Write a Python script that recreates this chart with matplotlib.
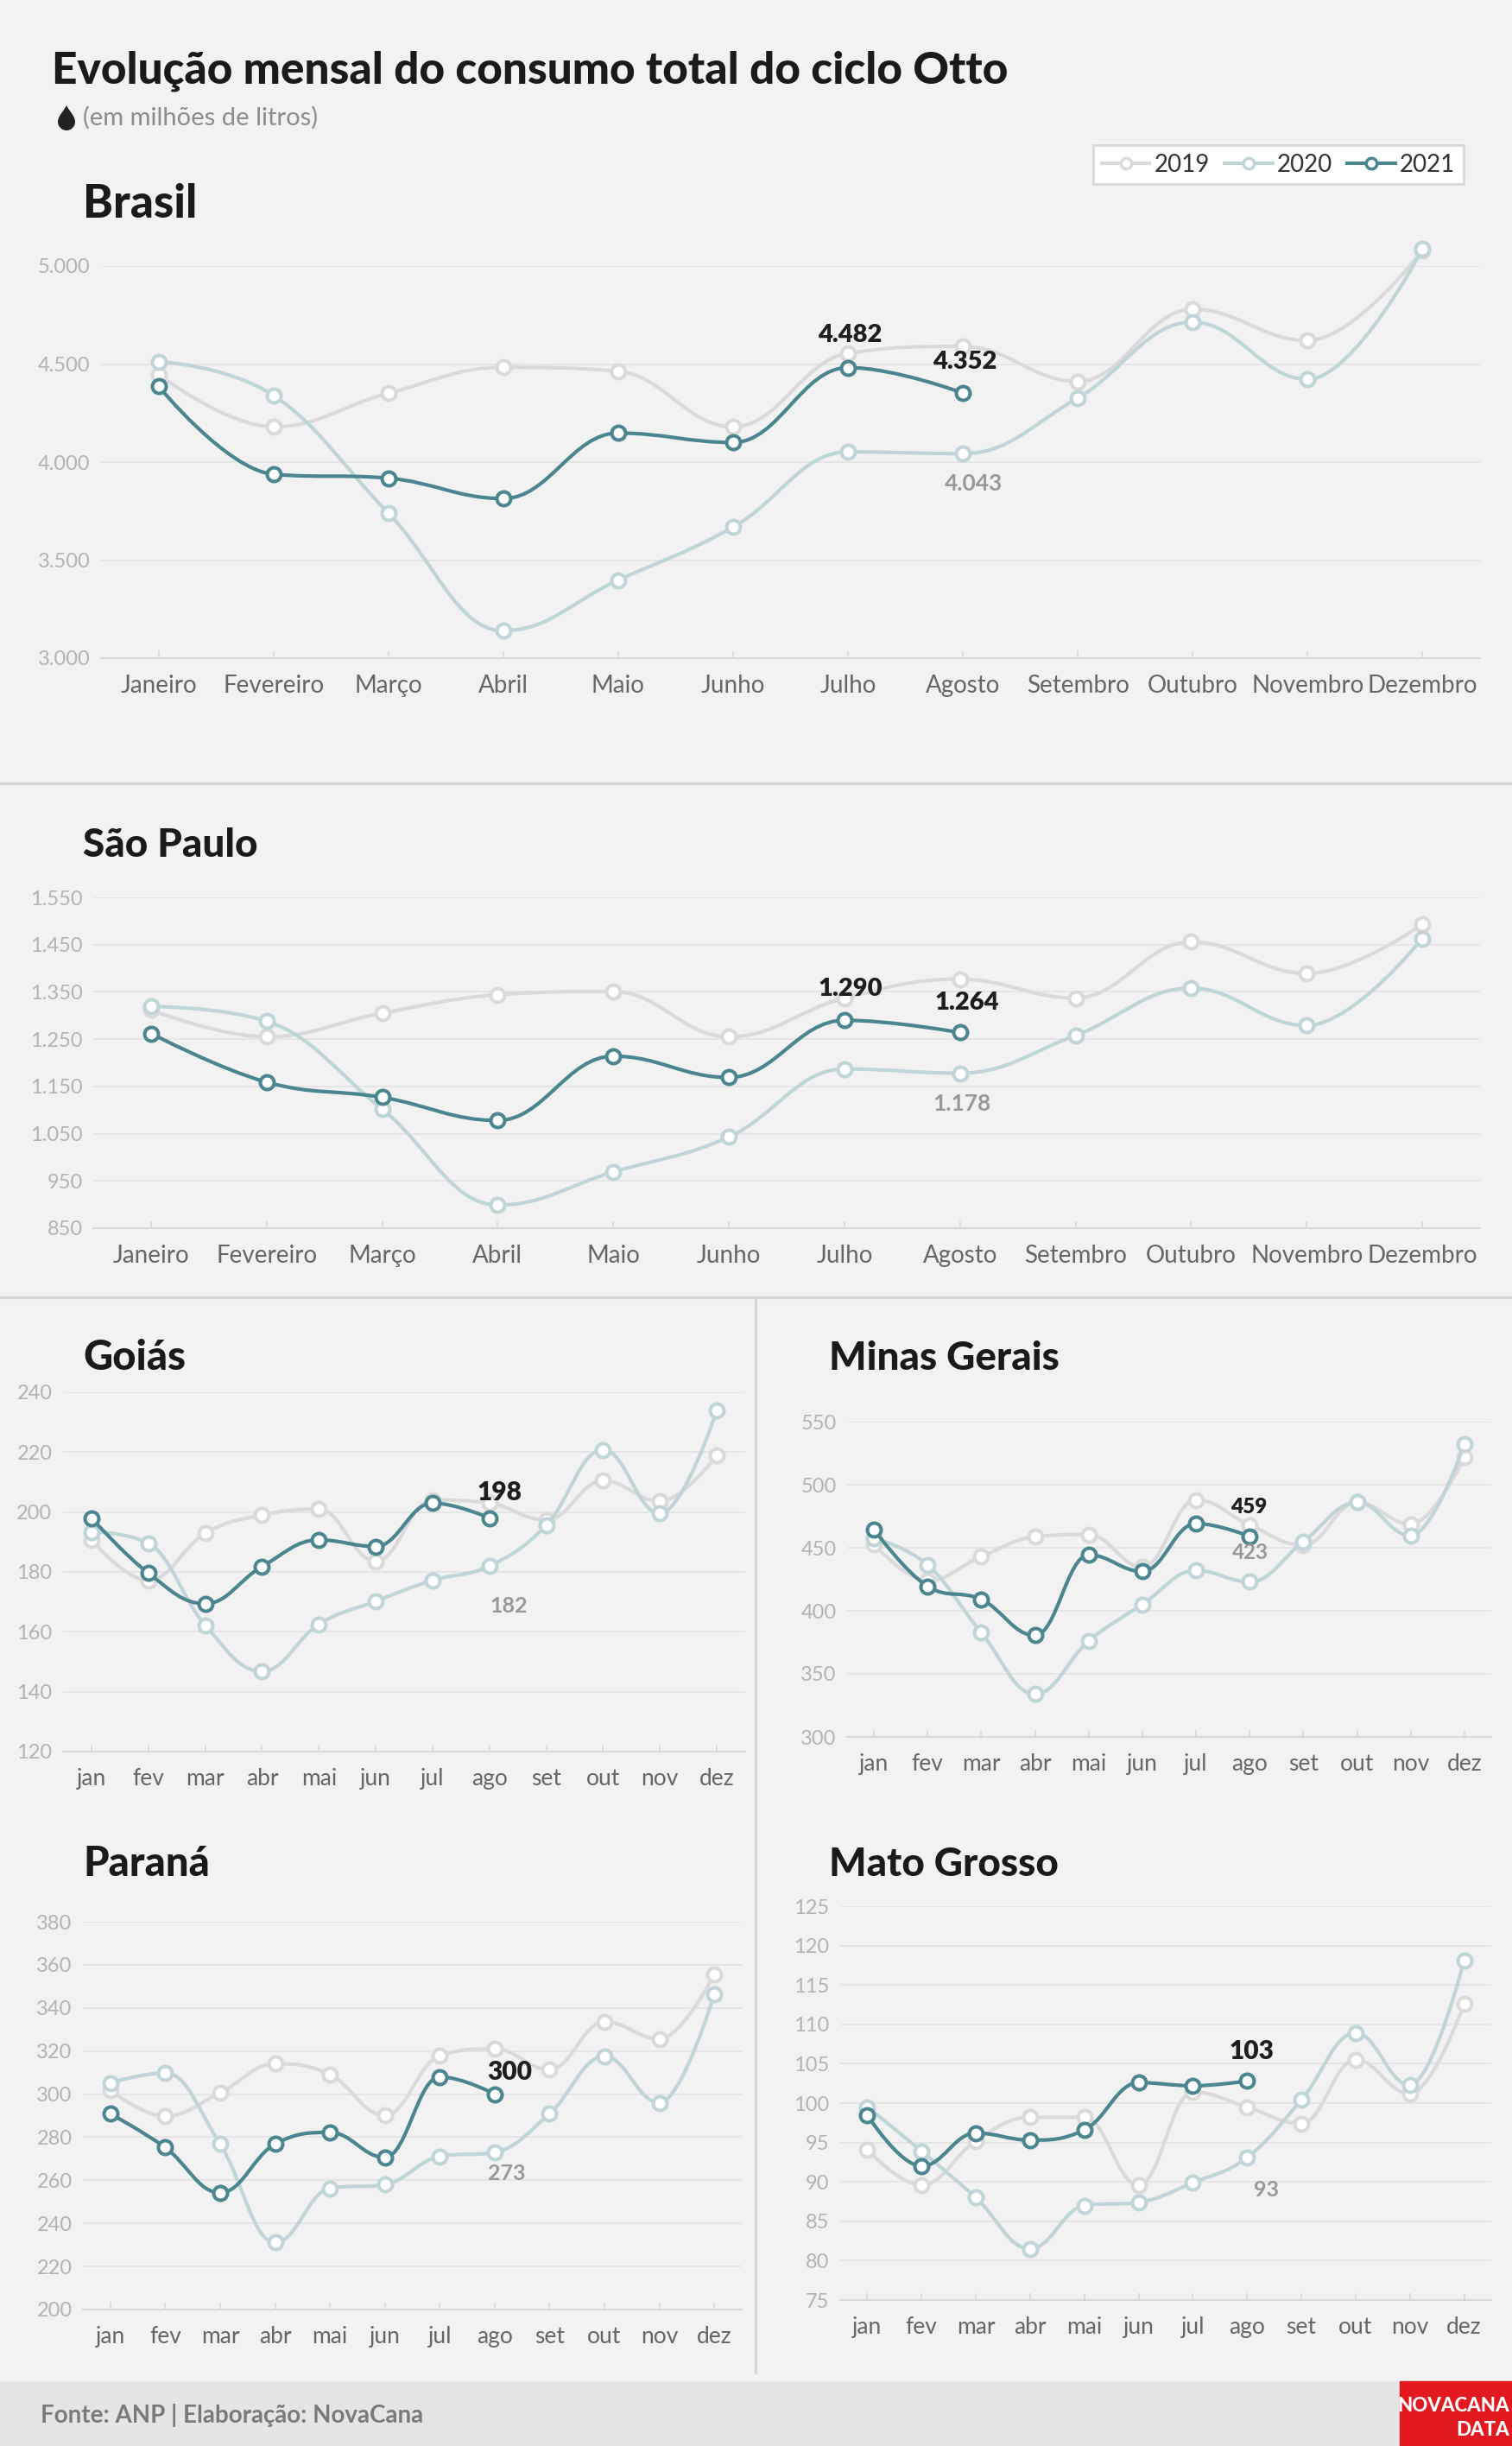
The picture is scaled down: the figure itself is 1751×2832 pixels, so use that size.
import matplotlib as mpl
mpl.use("Agg")
import matplotlib.pyplot as plt
from matplotlib.path import Path
from matplotlib.patches import PathPatch, Rectangle
from matplotlib.lines import Line2D
from matplotlib.ticker import FuncFormatter, FixedLocator
import matplotlib.transforms as mtransforms

plt.rcParams['font.family'] = ['Lato', 'DejaVu Sans']

W, H = 1751, 2832
BG = "#f2f2f2"
C19 = "#dadada"
C20 = "#c0d5d8"
C21 = "#4a8590"

months_full = ["Janeiro", "Fevereiro", "Março", "Abril", "Maio", "Junho", "Julho",
               "Agosto", "Setembro", "Outubro", "Novembro", "Dezembro"]
months_short = ["jan", "fev", "mar", "abr", "mai", "jun", "jul", "ago", "set", "out", "nov", "dez"]

# valores em milhões de litros
brasil_2019 = [4447, 4180, 4351, 4483, 4463, 4180, 4555, 4590, 4411, 4780, 4620, 5080]
brasil_2020 = [4512, 4340, 3740, 3140, 3398, 3668, 4052, 4043, 4327, 4714, 4422, 5086]
brasil_2021 = [4387, 3938, 3918, 3814, 4148, 4100, 4482, 4352]

sp_2019 = [1312, 1255, 1305, 1344, 1351, 1255, 1337, 1377, 1337, 1456, 1389, 1493]
sp_2020 = [1319, 1288, 1102, 899, 969, 1043, 1187, 1178, 1258, 1358, 1279, 1463]
sp_2021 = [1262, 1159, 1127, 1078, 1214, 1169, 1290, 1264]

go_2019 = [190.7, 177.2, 192.9, 199, 201, 183.5, 204, 203, 197.3, 210.5, 203.6, 219]
go_2020 = [193.4, 189.6, 162.2, 146.8, 162.5, 170.2, 177.2, 182, 195.6, 220.8, 199.5, 233.9]
go_2021 = [198, 179.6, 169.4, 181.8, 190.7, 188.5, 203, 198]

mg_2019 = [453, 424, 443, 458.7, 460.5, 434.6, 488, 468, 452, 486, 468.7, 521.7]
mg_2020 = [457.4, 436.4, 382.6, 334, 376, 405, 432, 423, 454.8, 486, 459.5, 532]
mg_2021 = [464.5, 419.4, 409, 380.5, 444.3, 431.2, 469.2, 459]

pr_2019 = [301.7, 289.8, 300.6, 314.1, 309, 290.1, 317.8, 321, 311.3, 333.6, 325.6, 355.6]
pr_2020 = [305.2, 309.8, 276.8, 231.1, 256.3, 258, 271.1, 273, 290.9, 317.5, 296, 346.4]
pr_2021 = [290.9, 275.2, 254.2, 276.8, 282.2, 270.6, 308, 300]

mt_2019 = [94.1, 89.6, 95.2, 98.2, 98.2, 89.6, 101.4, 99.5, 97.4, 105.5, 101.2, 112.6]
mt_2020 = [99.5, 93.9, 88, 81.5, 87, 87.4, 89.9, 93.1, 100.4, 108.9, 102.3, 118.1]
mt_2021 = [98.5, 92, 96.2, 95.3, 96.6, 102.6, 102.2, 102.8]

brasil_ticks = [3000, 3500, 4000, 4500, 5000]
sp_ticks = [850, 950, 1050, 1150, 1250, 1350, 1450, 1550]
go_ticks = [120, 140, 160, 180, 200, 220, 240]
mg_ticks = [300, 350, 400, 450, 500, 550]
pr_ticks = [200, 220, 240, 260, 280, 300, 320, 340, 360, 380]
mt_ticks = [75, 80, 85, 90, 95, 100, 105, 110, 115, 120, 125]


def spline_path(xs, ys, smoothing=1.5):
    # curva suave tipo "spline" (controles de bezier)
    n = len(xs)
    left, right = [], []
    for i in range(n):
        x, y = xs[i], ys[i]
        if i == 0 or i == n - 1:
            left.append((x, y))
            right.append((x, y))
            continue
        lx, ly = xs[i - 1], ys[i - 1]
        nx, ny = xs[i + 1], ys[i + 1]
        d = smoothing + 1
        lcx = (smoothing * x + lx) / d
        lcy = (smoothing * y + ly) / d
        rcx = (smoothing * x + nx) / d
        rcy = (smoothing * y + ny) / d
        corr = (rcy - lcy) * (rcx - x) / (rcx - lcx) + y - rcy
        lcy += corr
        rcy += corr
        if lcy > ly and lcy > y:
            lcy = max(ly, y)
            rcy = 2 * y - lcy
        elif lcy < ly and lcy < y:
            lcy = min(ly, y)
            rcy = 2 * y - lcy
        if rcy > ny and rcy > y:
            rcy = max(ny, y)
            lcy = 2 * y - rcy
        elif rcy < ny and rcy < y:
            rcy = min(ny, y)
            lcy = 2 * y - rcy
        left.append((lcx, lcy))
        right.append((rcx, rcy))
    verts = [(xs[0], ys[0])]
    codes = [Path.MOVETO]
    for i in range(1, n):
        verts += [right[i - 1], left[i], (xs[i], ys[i])]
        codes += [Path.CURVE4] * 3
    return Path(verts, codes)


def draw_series(ax, vals, color, z):
    xs = list(range(len(vals)))
    ax.add_patch(PathPatch(spline_path(xs, vals), fill=False, edgecolor=color, lw=3.0,
                           capstyle="round", joinstyle="round", zorder=z, clip_on=False))
    ax.plot(xs, vals, "o", ms=11.5, mfc="white", mec=color, mew=2.9, zorder=z + 0.5, clip_on=False)


def fmt_br(v):
    return f"{v:,.0f}".replace(",", ".")


fig = plt.figure(figsize=(W / 100, H / 100), dpi=100, facecolor=BG)


def px_rect(x0, y0, x1, y1):
    return [x0 / W, 1 - y1 / H, (x1 - x0) / W, (y1 - y0) / H]


# (titulo, tamanho, dados, ticks, retangulo px, rotulos, pos titulo, anotações)
panels = [
    ("Brasil", 38, (brasil_2019, brasil_2020, brasil_2021), brasil_ticks, (117, 308, 1714, 762), months_full,
     (96, 252), [(2021, 6, 2, 30, 21), (2021, 7, 2, 28, 21), (2020, 7, 12, -43, 19)]),
    ("São Paulo", 33, (sp_2019, sp_2020, sp_2021), sp_ticks, (108, 1039, 1714, 1422), months_full,
     (96, 992), [(2021, 6, 7, 28, 21), (2021, 7, 8, 26, 21), (2020, 7, 2, -43, 19)]),
    ("Goiás", 34, (go_2019, go_2020, go_2021), go_ticks, (73, 1612, 863, 2028), months_short,
     (96, 1586), [(2021, 7, 12, 21, 21.5), (2020, 7, 22, -54, 18)]),
    ("Minas Gerais", 33, (mg_2019, mg_2020, mg_2021), mg_ticks, (981, 1646, 1727, 2011), months_short,
     (960, 1586), [(2021, 7, -1, 27, 17.5), (2020, 7, 1, 26, 17.5)]),
    ("Paraná", 34, (pr_2019, pr_2020, pr_2021), pr_ticks, (96, 2225, 859, 2674), months_short,
     (96, 2172), [(2021, 7, 17, 17, 21.5), (2020, 7, 14, -32, 18)]),
    ("Mato Grosso", 33, (mt_2019, mt_2020, mt_2021), mt_ticks, (973, 2207, 1727, 2663), months_short,
     (960, 2172), [(2021, 7, 5, 25, 21.5), (2020, 7, 22, -45, 18)]),
]

for title, tsize, (s19, s20, s21), yt, rect, labels, tpos, notes in panels:
    ax = fig.add_axes(px_rect(*rect))
    ax.set_facecolor("none")
    draw_series(ax, s19, C19, 3)
    draw_series(ax, s20, C20, 4)
    draw_series(ax, s21, C21, 5)
    ax.set_xlim(-0.5, 11.5)
    ax.set_ylim(yt[0], yt[-1])
    ax.yaxis.set_major_locator(FixedLocator(yt))
    ax.yaxis.set_major_formatter(FuncFormatter(lambda v, p: fmt_br(v)))
    ax.set_xticks(range(12))
    big = len(labels[0]) > 3
    ax.set_xticklabels(labels, fontsize=20 if big else 19, color="#666666")
    ax.tick_params(axis="y", length=0, pad=9, labelsize=17, labelcolor="#b3b3b3")
    ax.tick_params(axis="x", direction="in", length=6, width=1.2, color="#d9d9d9", pad=14)
    ax.grid(axis="y", color="#e2e2e2", lw=1.1)
    ax.set_axisbelow(True)
    for s in ["left", "right", "top"]:
        ax.spines[s].set_visible(False)
    ax.spines["bottom"].set_color("#d9d9d9")
    ax.spines["bottom"].set_linewidth(1.5)
    fig.text(tpos[0] / W, 1 - tpos[1] / H, title, fontsize=tsize, fontweight="black",
             color="#1a1a1a", va="baseline", ha="left")
    for yr, idx, dx, dy, fs in notes:
        val = s21[idx] if yr == 2021 else s20[idx]
        col = "#1e1e1e" if yr == 2021 else "#999999"
        ax.annotate(fmt_br(round(val)), (idx, val), xytext=(dx * 0.72, dy * 0.72),
                    textcoords="offset points", ha="center", va="baseline",
                    fontsize=fs, fontweight="heavy" if yr == 2021 else "bold",
                    color=col, zorder=10, annotation_clip=False)

# titulo e subtitulo
fig.text(60 / W, 1 - 97 / H, "Evolução mensal do consumo total do ciclo Otto",
         fontsize=37, fontweight="black", color="#1a1a1a", va="baseline")
fig.text(96 / W, 1 - 145 / H, "(em milhões de litros)", fontsize=21, color="#8c8c8c", va="baseline")

# gota
px = mtransforms.Affine2D().scale(1 / W, -1 / H).translate(0, 1) + fig.transFigure
r, cx, cy = 10, 77, 141
drop = [(0, 1.9), (0.35, 1.2), (1, 0.65), (1, 0), (1, -0.55), (0.55, -1), (0, -1),
        (-0.55, -1), (-1, -0.55), (-1, 0), (-1, 0.65), (-0.35, 1.2), (0, 1.9)]
drop = [(cx + r * a, cy - r * b) for a, b in drop]
fig.add_artist(PathPatch(Path(drop, [Path.MOVETO] + [Path.CURVE4] * 12),
                         facecolor="#222222", edgecolor="none", transform=px))

# legenda
handles = [Line2D([], [], color=c, lw=2.9, marker="o", ms=9, mfc="white", mec=c, mew=2.5)
           for c in (C19, C20, C21)]
leg = fig.legend(handles, ["2019", "2020", "2021"], loc="upper right",
                 bbox_to_anchor=(1709 / W, 1 - 154 / H), ncol=3, fontsize=20,
                 frameon=True, fancybox=False, edgecolor="#d8d8d8", facecolor="white",
                 framealpha=1, handlelength=2.0, handletextpad=0.2, columnspacing=0.6,
                 borderpad=0.35, numpoints=1)
leg.get_frame().set_linewidth(2)
for t in leg.get_texts():
    t.set_color("#333333")

# separadores
sep = "#d6d6d6"
fig.add_artist(Line2D([0, 1], [1 - 907 / H, 1 - 907 / H], transform=fig.transFigure, color=sep, lw=2.4))
fig.add_artist(Line2D([0, 1], [1 - 1502 / H, 1 - 1502 / H], transform=fig.transFigure, color=sep, lw=2.4))
fig.add_artist(Line2D([875 / W, 875 / W], [1 - 1502 / H, 1 - 2747 / H], transform=fig.transFigure,
                      color=sep, lw=2.4))

# rodape
fig.add_artist(Rectangle((0, 0), 1, 75 / H, transform=fig.transFigure, color="#e5e5e5", zorder=0))
fig.text(47 / W, 1 - 2797 / H, "Fonte: ANP | Elaboração: NovaCana", fontsize=20, fontweight="bold",
         color="#7a7a7a", va="center")
fig.add_artist(Rectangle((1621 / W, 0), 130 / W, 75 / H, transform=fig.transFigure,
                         color="#e2191f", zorder=1))
fig.text(1748 / W, 1 - 2785 / H, "NOVACANA", fontsize=16, fontweight="black", color="white",
         ha="right", va="center", zorder=2)
fig.text(1748 / W, 1 - 2813 / H, "DATA", fontsize=16, fontweight="black", color="white",
         ha="right", va="center", zorder=2)

fig.savefig("out.png", dpi=100, facecolor=fig.get_facecolor())
